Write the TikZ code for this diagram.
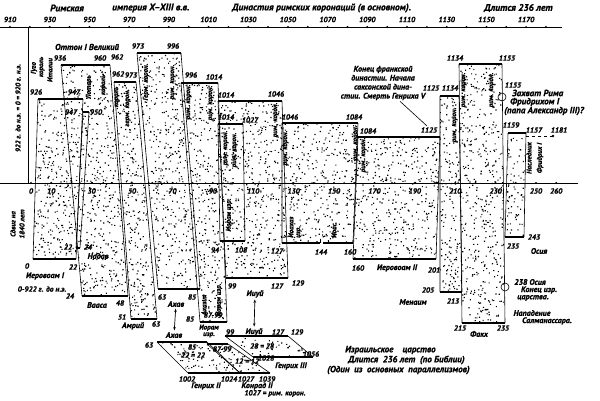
\documentclass[tikz,border=0pt]{standalone}
\usepackage{fontspec}
\setmainfont{PT Sans}[BoldItalicFeatures={FakeBold=1.0}]
\usetikzlibrary{arrows.meta}
\def\mainquads{38/99/83/99/76/259/33/259, 83/112/89/112/80/248/76/248, 61/65/110/65/128/296/82/296, 114/82/136/82/157/319/131/319, 137/53/181/53/200/289/158/289, 181/83/218/83/227/322/200/322, 218/101/282/101/288/278/226/278, 218/124/243/124/245/241/220/241, 358/137/440/137/436/259/353/259, 440/96/459/96/462/292/440/292, 459/64/502/64/505/323/462/323, 508/133/526/133/524/237/505/237, 157/342/207/342/240/373/188/373, 207/344/228/344/270/373/240/373, 225/336/288/336/313/357/253/357}
\begin{document}
\begin{tikzpicture}[x=1pt,y=-1pt,
  lbl/.style={font=\fontsize{7.5}{8}\selectfont\bfseries\itshape, inner sep=0pt},
  nm/.style={font=\fontsize{8}{9}\selectfont\bfseries\itshape, inner sep=0pt},
  big/.style={font=\fontsize{9}{10}\selectfont\bfseries\itshape, inner sep=0pt},
  vlbl/.style={font=\fontsize{7}{8}\selectfont\bfseries\itshape, inner sep=0pt, rotate=90},
  ttl/.style={font=\fontsize{9.5}{10}\selectfont\bfseries\itshape, inner sep=0pt},
  side/.style={line width=0.6pt},
  rim/.style={line width=2.4pt},
  axisline/.style={line width=0.7pt},
  dbl/.style={{Stealth[length=3.5pt,width=2.5pt]}-{Stealth[length=3.5pt,width=2.5pt]}, line width=0.7pt, shorten <=1.5pt, shorten >=1.5pt}
]
\useasboundingbox (0,0) rectangle (600,401);
\fill[white] (0,0) rectangle (600,401);

% stipple fill
\begin{scope}
\clip \foreach \xa/\ya/\xb/\yb/\xc/\yc/\xd/\yd in \mainquads {(\xa,\ya) -- (\xb,\yb) -- (\xc,\yc) -- (\xd,\yd) -- cycle}
  (282,123) -- (358,123) -- (353,243) -- (282,243) -- cycle;
\pgfmathsetseed{4242}
\foreach \j in {1,...,20} {
  \fill \foreach \i in {1,...,400} { ({30+545*rnd},{45+335*rnd}) rectangle ++(1.15pt,1.15pt) };
}
\end{scope}

% shape outlines
\foreach \xa/\ya/\xb/\yb/\xc/\yc/\xd/\yd in \mainquads {
  \draw[side] (\xa,\ya) -- (\xd,\yd) (\xb,\yb) -- (\xc,\yc);
  \draw[rim] (\xa,\ya) -- (\xb,\yb) (\xd,\yd) -- (\xc,\yc);
}
\draw[side] (282,123) -- (282,243) (358,123) -- (353,243);
\draw[rim] (282,123) -- (358,123);
\draw[rim] (282,243) -- (319.5,243) (322.5,243) -- (353,243);
\draw[side] (320.5,238.5) -- (320.5,243);

% axes
\draw[axisline] (0,27) -- (562,27);
\foreach \Y in {910,920,...,1180} \fill (10+1.985*\Y-1806.35,27) circle (1.1pt);
\foreach \Y in {910,930,...,1170} \node[lbl] (ty\Y) at (10+1.985*\Y-1806.35,19.5) {\Y};
\draw[axisline] (28,27) -- (28,183);
\draw[axisline] (0,183) -- (578,183);
\foreach \t in {0,10,...,260} \fill (31+2.02*\t,183) circle (1.1pt);
\foreach \t in {0,10,30,50,70,90,110,130,150,170,190,210,230,250,260} \node[lbl] (bt\t) at (31+2.02*\t,191) {\t};

% title
\node[ttl, anchor=west] (ti1) at (50,8) {Римская};
\node[ttl, anchor=west] (ti2) at (112,8) {империя X--XIII в.в.};
\node[ttl, anchor=west] (ti3) at (232,8) {Династия римских коронаций (в основном).};
\node[ttl, anchor=west] (ti4) at (484,8) {Длится 236 лет};

% left vertical texts
\node[vlbl] (lv1) at (18,108) {922 г. до н.э. = 0 = 920 г. н.э.};
\node[vlbl] (lv2) at (13,224) {Сдвиг на};
\node[vlbl] (lv3) at (22,224) {1840 лет};

% top numbers
\node[lbl] (a1) at (36,92) {926};
\node[lbl] (a2) at (74,92) {947};
\node[lbl] (a3) at (60,58) {936};
\node[lbl] (a4) at (100,58) {960};
\node[lbl] (a5) at (117,57) {962};
\node[lbl] (a6) at (71,112) {947};
\node[lbl] (a7) at (96,112) {950};
\node[lbl] (a8) at (118,74) {962};
\node[lbl] (a9) at (131,75) {973};
\node[lbl] (a10) at (138,46) {973};
\node[lbl] (a11) at (173,46) {996};
\node[lbl] (a12) at (191,75) {996};
\node[lbl] (a13) at (214,77) {1014};
\node[lbl] (a14) at (226,95) {1014};
\node[lbl] (a15) at (276,94) {1046};
\node[lbl] (a16) at (226,117) {1014};
\node[lbl] (a17) at (250,120) {1027};
\node[lbl] (a18) at (290,117) {1046};
\node[lbl] (a19) at (354,117) {1084};
\node[lbl] (a20) at (368,131) {1084};
\node[lbl] (a21) at (429,130) {1125};
\node[lbl] (a22) at (431,88) {1125};
\node[lbl] (a23) at (450,88) {1134};
\node[lbl] (a24) at (455,58) {1134};
\node[lbl] (a25) at (507,58) {1155};
\node[lbl] (a26) at (513,85) {1155};
\node[lbl] (a27) at (511,125) {1159};
\node[lbl] (a28) at (534,130) {1157};
\node[lbl] (a29) at (559,130) {1181};

\node[nm, font=\fontsize{8.5}{9}\selectfont\bfseries\itshape] (otto) at (87,47) {Оттон I Великий};

% top vertical texts
\node[vlbl] (v1) at (34,68) {Гуго};
\node[vlbl] (v2) at (42,67) {король};
\node[vlbl] (v3) at (50,70) {Италии};
\node[vlbl] (v4) at (89,87) {Лотарь};
\node[vlbl] (v5) at (104,85) {король};
\node[vlbl] (v6) at (117,97) {король};
\node[vlbl] (v7) at (128,108) {герм. корон.};
\node[vlbl] (v8) at (146,82) {Герм. корон.};
\node[vlbl] (v9) at (173,82) {рим. корон.};
\node[vlbl] (v10) at (189,102) {рим. корон.};
\node[vlbl] (v11) at (211,103) {рим. корон.};
\node[vlbl] (v12) at (276,120) {рим. корон.};
\node[vlbl] (v13) at (226,148) {рим. корон.};
\node[vlbl] (v14) at (235,150) {рим. корон.};
\node[vlbl] (v15) at (286,148) {рим. корон.};
\node[vlbl] (v16) at (356,143) {рим. корон.};
\node[vlbl] (v17) at (364,155) {рим. корон.};
\node[vlbl] (v18) at (455,125) {рим. корон.};
\node[vlbl] (v19) at (464,90) {рим. корон.};
\node[vlbl] (v20) at (492,90) {рим. корон.};
\node[vlbl] (v21) at (529,158) {Наследник};
\node[vlbl] (v22) at (540,158) {Фридрих I};

% Frankish dynasty note
\node[nm, align=center] (frank) at (383,83) {Конец франкской\\династии. Начала\\саксонской дина-\\стии. Смерть Генриха V};
\coordinate (frk) at (427,126);
\draw[side] ([xshift=17pt,yshift=-1pt]frank.south) -- (frk);

% Frederick
\draw[side] (502,97) circle (4pt);
\node[big, anchor=west] (fr1) at (512,93) {Захват Рима};
\node[big, anchor=west] (fr2) at (510,102) {Фридрихом I};
\node[big, anchor=west] (fr3) at (504,111) {(папа Александр III)?};
\coordinate (dsh1) at (526,136);
\coordinate (dsh2) at (553,136);
\draw[side, dashed] (dsh1) -- (dsh2);
\fill (dsh2) circle (1.4pt);

% bottom labels
\node[lbl] (b1) at (68,247) {22};
\node[lbl] (b2) at (88,247) {24};
\node[nm] (b3) at (98,256) {Надав};
\node[lbl] (b4) at (27,266) {0};
\node[lbl] (b5) at (73,267) {22};
\node[nm] (b6) at (45,276) {Иеровоам I};
\node[lbl] (b7) at (42,289) {0-922 г. до н.э.};
\node[lbl] (b8) at (70,296) {24};
\node[nm] (b9) at (97,305) {Вааса};
\node[lbl] (b10) at (120,303) {48};
\node[lbl] (b11) at (122,317) {51};
\node[nm] (b12) at (133,326) {Амрий};
\node[lbl] (b13) at (156,324) {63};
\node[lbl] (b14) at (162,297) {63};
\node[nm] (ahab1) at (176,304) {Ахав};
\node[lbl] (b15) at (192,297) {85};
\node[lbl] (b16) at (190,319) {85};
\node[lbl] (b17) at (213,315) {87-99};
\node[lbl] (b18) at (215,250) {94};
\node[lbl] (b19) at (241,250) {108};
\node[lbl] (b20) at (232,286) {99};
\node[nm] (jehu1) at (255,294) {Ииуй};
\node[lbl] (b21) at (277,286) {127};
\node[lbl] (b22) at (298,283) {129};
\node[lbl] (b23) at (277,251) {127};
\node[lbl] (b24) at (321,252) {144};
\node[lbl] (b25) at (350,252) {160};
\node[lbl] (b26) at (358,268) {160};
\node[nm] (b27) at (397,268) {Иеровоам II};
\node[lbl] (b28) at (434,270) {201};
\node[lbl] (b29) at (428,290) {205};
\node[nm] (b30) at (413,302) {Менаим};
\node[lbl] (b31) at (453,301) {213};
\node[lbl] (b32) at (534,237) {243};
\node[lbl] (b33) at (513,246) {235};
\node[nm] (b34) at (539,251) {Осия};
\draw[side] (505,287) circle (4pt);
\node[nm] (b35) at (530,282) {238 Осия};
\node[nm] (b36) at (539,290) {Конец изр.};
\node[nm] (b37) at (533,298) {царства.};
\node[nm] (b38) at (532,313) {Нападение};
\node[nm] (b39) at (547,321) {Салманассара.};
\node[lbl] (b40) at (460,328) {215};
\node[nm] (b41) at (479,334) {Факх};
\node[lbl] (b42) at (503,328) {235};

% bottom vertical texts
\node[vlbl] (w1) at (229,215) {Иорам изр.};
\node[vlbl, anchor=west] (w2) at (291,238) {Иоахаз};
\node[vlbl, anchor=west] (w3) at (299,238) {изр.};
\node[vlbl, anchor=west] (w4) at (334,238) {Иоас};
\node[vlbl] (w5) at (204,305) {Ахазия};
\node[vlbl] (w6) at (219,300) {Иорам изр.};

% parallelogram area
\node[nm] (ahab2) at (174,335) {Ахав};
\draw[dbl] (ahab1) -- (ahab2);
\node[nm] (jehu2) at (254,332) {Ииуй};
\draw[dbl] (jehu1) -- (jehu2);
\node[lbl] (c1) at (149,345) {63};
\node[lbl] (c2) at (192,347) {85};
\node[lbl] (c3) at (193,355) {22 = 22};
\node[nm, align=center, font=\fontsize{7}{6.5}\selectfont\bfseries\itshape] (c4) at (209,331) {Иорам\\изр.};
\node[lbl] (c5) at (230,332) {99};
\node[lbl] (c6) at (278,332) {127};
\node[lbl] (c7) at (297,332) {129};
\node[lbl] (c8) at (222,349) {87-99};
\node[lbl] (c9) at (247,361) {12 = 12};
\node[lbl] (c10) at (262,346) {28 = 28};
\node[lbl] (c11) at (266,358) {1028};
\node[nm] (c12) at (291,366) {Генрих III};
\node[lbl] (c13) at (311,354) {1056};
\node[lbl] (c14) at (187,379) {1002};
\node[nm] (c15) at (206,386) {Генрих II};
\node[lbl] (c16) at (229,379) {1024};
\node[lbl] (c17) at (246,379) {1027};
\node[lbl] (c18) at (267,379) {1039};
\node[nm] (c19) at (257,386) {Конрад II};
\node[lbl] (c20) at (275,393.5) {1027 = рим. корон.};

% Israel caption
\node[big, anchor=west] (is1) at (345,350) {Израильское\ \ \ \ царство};
\node[big, anchor=west] (is2) at (348,360) {Длится\ \ 236 лет\ \ (по Библии)};
\node[big, anchor=west] (is3) at (327,370) {(Один\ \ из\ \ основных\ \ параллелизмов)};
\end{tikzpicture}
\end{document}
